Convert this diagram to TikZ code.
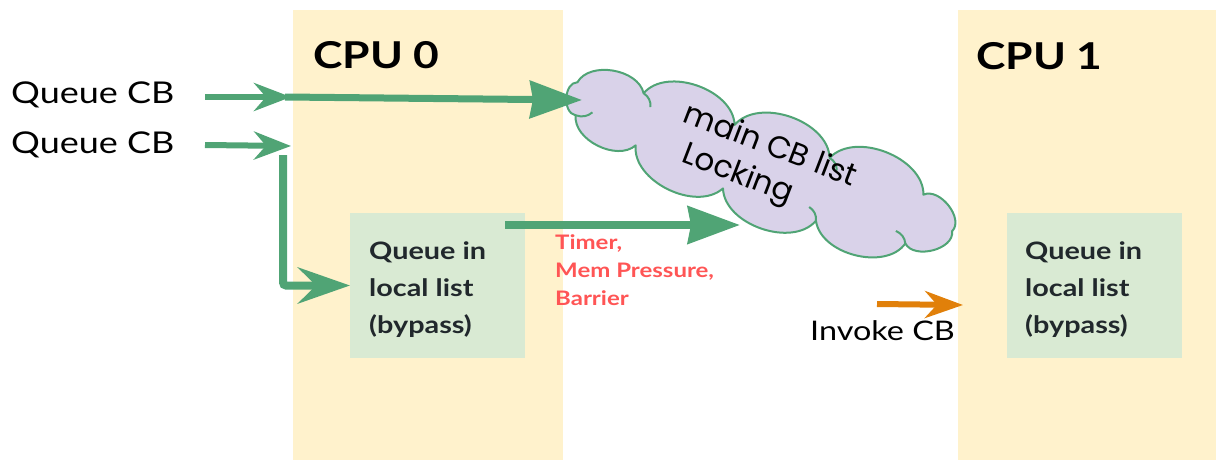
\documentclass[tikz,border=0pt]{standalone}
\usepackage{fontspec}
\setmainfont{Lato}[FakeStretch=1.2]
\newfontfamily\cloudfont{Poppins}
\usetikzlibrary{arrows.meta}

\definecolor{colbg}{RGB}{255,242,204}
\definecolor{boxbg}{RGB}{217,234,211}
\definecolor{cloudbg}{RGB}{217,210,233}
\definecolor{flow}{RGB}{80,164,117}
\definecolor{invoke}{RGB}{225,128,10}
\definecolor{trigger}{RGB}{255,85,85}
\definecolor{boxtext}{RGB}{33,40,44}

\begin{document}
\begin{tikzpicture}[x=1pt,y=-1pt,
  column/.style={fill=colbg, draw=none, inner sep=0, outer sep=0,
    minimum width=270, minimum height=450, anchor=north west},
  localbox/.style={fill=boxbg, draw=none, inner sep=0, outer sep=0,
    minimum width=175, minimum height=145, anchor=north west},
  cpulabel/.style={anchor=base west, inner sep=0, font=\bfseries\fontsize{37}{44}\selectfont},
  plainlabel/.style={anchor=base west, inner sep=0, font=\fontsize{30}{36}\selectfont},
  % multi-line labels are placed by the baseline of their last line
  boxlabel/.style={anchor=base west, inner sep=0, align=left, text=boxtext,
    font=\bfseries\fontsize{24}{37}\selectfont},
  triggerlabel/.style={anchor=base west, inner sep=0, align=left, text=trigger,
    font=\bfseries\fontsize{20}{28}\selectfont},
  cloudline/.style={draw=flow, fill=cloudbg, line width=2, line join=round},
  crease/.style={draw=flow, line width=2},
  puff/.style={bend left=#1},
  puff/.default=70,
  inarrow/.style={draw=flow, line width=6,
    -{Stealth[length=37pt,width=28pt,inset=12pt]}},
  bigarrow/.style={draw=flow, line width=7,
    -{Stealth[length=52pt,width=37pt,inset=3pt]}},
  bendarrow/.style={draw=flow, line width=8, rounded corners=3,
    -{Stealth[length=52pt,width=36pt,inset=18pt]}},
  invokearrow/.style={draw=invoke, line width=6,
    -{Stealth[length=38pt,width=27pt,inset=12pt]}},
]
\useasboundingbox (0,0) rectangle (1216,460);

% CPU columns
\node[column] (cpu0) at (293,10) {};
\node[column, minimum width=258] (cpu1) at (958,10) {};
\node[cpulabel] (cpu0label) at (313,69) {CPU 0};
\node[cpulabel] (cpu1label) at (976,70) {CPU 1};

% per-CPU local lists
\node[localbox] (box0) at (350,213) {};
\node[localbox] (box1) at (1007,213) {};
\node[boxlabel] (box0label) at (369,333) {Queue in\\local list\\(bypass)};
\node[boxlabel] (box1label) at (1025,333) {Queue in\\local list\\(bypass)};

% shared callback list: a tilted cloud of puffs, traced clockwise
\coordinate (cloud) at (764,166);
\begin{scope}[shift={(cloud)}, rotate=-18, xscale=1.07]
  \draw[cloudline] (186,4)
    to[puff=80] (148,30) to[puff] (62,36) to[puff] (-30,34)
    to[puff] (-120,20) to[puff] (-182,10)
    to[puff=85] (-190,-22) to[puff] (-128,-32) to[puff] (-38,-30)
    to[puff] (56,-28) to[puff] (150,-22) to[puff=80] (186,4) -- cycle;
  % creases where neighbouring puffs overlap
  \draw[crease] (-182,10) to[bend right=30] (-168,2);
  \draw[crease] (-128,-32) to[bend left=30] (-118,-21);
  \draw[crease] (56,-28) to[bend left=30] (66,-18);
  \draw[crease] (62,36) to[bend right=30] (52,25);
  \draw[crease] (148,30) to[bend right=30] (136,21);
\end{scope}
\node[rotate=-21, anchor=base west, align=left, inner sep=0,
  font=\cloudfont\fontsize{31}{38}\selectfont] (cloudlabel) at (668,157)
  {main CB list\\\hspace*{13pt}Locking};

% incoming callbacks
\node[plainlabel] (q1) at (11,103) {Queue CB};
\node[plainlabel] (q2) at (11,153) {Queue CB};
\coordinate (q1start) at (205,97);
\coordinate (q1tip) at (291,97);
\coordinate (q2start) at (205,145);
\coordinate (q2tip) at (291,146);
\coordinate (bendstart) at (283,155);
\coordinate (cloudin1) at (582,100);
\coordinate (flushstart) at ([shift={(-20,12)}]box0.north east);
\coordinate (cloudin2) at (740,225);

\draw[inarrow] (q1start) -- (q1tip);
\draw[bigarrow] ([xshift=-6pt]q1tip) -- (cloudin1);
\draw[inarrow] (q2start) -- (q2tip);
\draw[bendarrow] (bendstart) |- (box0.west);
\draw[bigarrow, line width=8] (flushstart) -- (cloudin2);

\node[triggerlabel] (trigger) at (555,305) {Timer,\\Mem Pressure,\\Barrier};

% callback invocation on CPU 1
\coordinate (invstart) at (877,304);
\coordinate (invtip) at (963,305);
\draw[invokearrow] (invstart) -- (invtip);
\node[plainlabel, font=\fontsize{27}{32}\selectfont] (invoke) at (810,340) {Invoke CB};
\end{tikzpicture}
\end{document}
